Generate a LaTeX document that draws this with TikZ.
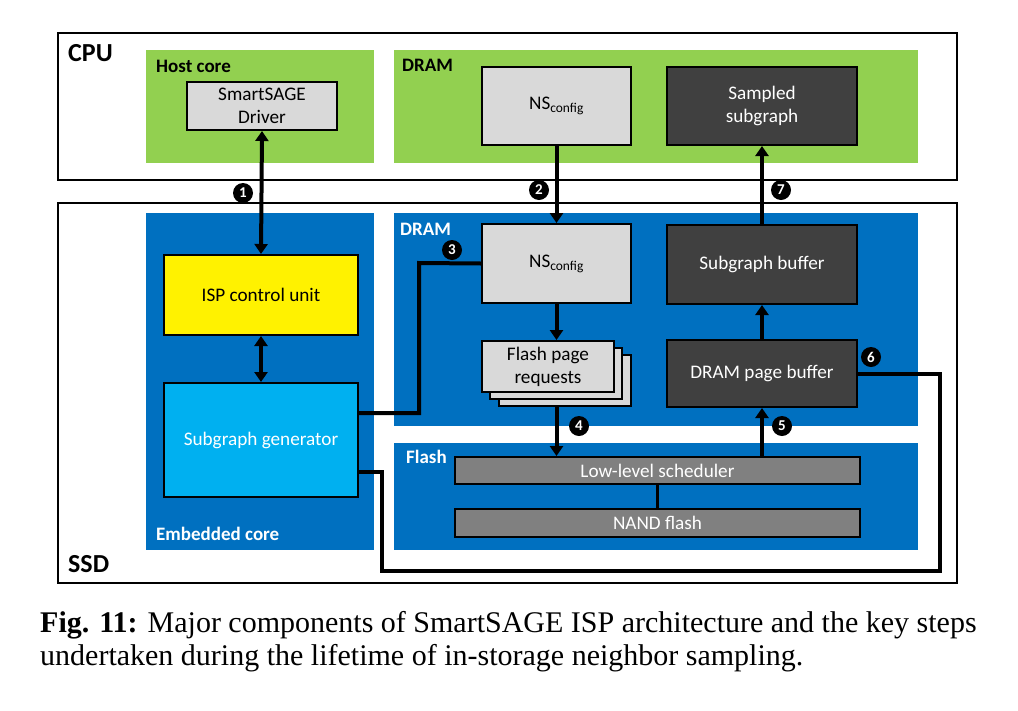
\documentclass[tikz,border=0pt]{standalone}
\usepackage{fontspec}
\setmainfont{Carlito}
\newfontfamily\capfont{Liberation Serif}
\usetikzlibrary{arrows.meta,positioning}
\definecolor{hostgreen}{HTML}{92D050}
\definecolor{ssdblue}{HTML}{0070C0}
\definecolor{genblue}{HTML}{00B0F0}
\definecolor{boxgray}{HTML}{D9D9D9}
\definecolor{darkbox}{HTML}{404040}
\definecolor{flashgray}{HTML}{808080}
\begin{document}
\begin{tikzpicture}[x=1pt,y=-1pt,
  every node/.style={font=\fontsize{19.2}{23}\selectfont},
  blk/.style={draw,line width=2pt,align=center,inner sep=0pt},
  conn/.style={line width=4pt},
  arr/.style={conn,-{Triangle[length=10pt,width=13pt]}},
  biarr/.style={conn,{Triangle[length=10pt,width=13pt]}-{Triangle[length=10pt,width=13pt]}},
  stepnum/.style={circle,fill=black,text=white,inner sep=0pt,minimum size=20pt,font=\fontsize{15}{15}\selectfont\bfseries},
  region/.style={anchor=base west,inner sep=0pt,font=\fontsize{19}{23}\selectfont\bfseries}]
\useasboundingbox (0,0) rectangle (1018,710);

\draw[line width=2pt] (58,33) rectangle (957,180);
\draw[line width=2pt] (58,203) rectangle (957,583);
\node[region,font=\fontsize{26}{30}\selectfont\bfseries] (cpu) at (68,61) {CPU};
\node[region,font=\fontsize{26}{30}\selectfont\bfseries] (ssd) at (68,572) {SSD};

\fill[hostgreen] (146,50) rectangle (374,163);
\fill[hostgreen] (394,50) rectangle (918,163);
\fill[ssdblue] (146,213) rectangle (374,550);
\fill[ssdblue] (394,213) rectangle (918,426);
\fill[ssdblue] (394,443) rectangle (918,550);
\node[region] (host) at (156,72) {Host core};
\node[region] (hdram) at (402,71) {DRAM};
\node[region,text=white] (sdram) at (400,235) {DRAM};
\node[region,text=white] (flash) at (406,463) {Flash};
\node[region,text=white] (emb) at (156,540) {Embedded core};

\node[blk,fill=boxgray,minimum width=150,minimum height=48] (drv) at (262,106) {SmartSAGE\\Driver};
\node[blk,fill=boxgray,minimum width=149,minimum height=78] (nscpu) at (556.5,106) {NS\textsubscript{config}};
\node[blk,fill=darkbox,text=white,minimum width=190,minimum height=78] (sampled) at (762,106) {Sampled\\subgraph};

\node[blk,fill=yellow,minimum width=194,minimum height=80] (isp) at (261,295) {ISP control unit};
\node[blk,fill=genblue,text=white,minimum width=194,minimum height=114] (sgen) at (261,440) {Subgraph generator};

\node[blk,fill=boxgray,minimum width=149,minimum height=79] (nsssd) at (556.5,263.5) {NS\textsubscript{config}};
\node[blk,fill=darkbox,text=white,minimum width=190,minimum height=79] (sbuf) at (762,264.5) {Subgraph buffer};
\node[blk,fill=boxgray,minimum width=132,minimum height=51] (fprb) at (565,380.5) {};
\node[blk,fill=boxgray,minimum width=132,minimum height=51] (fprm) at (556,373.5) {};
\node[blk,fill=boxgray,minimum width=132,minimum height=51] (fpr) at (548,366.5) {Flash page\\requests};
\node[blk,fill=darkbox,text=white,minimum width=190,minimum height=67] (dpb) at (762,373.5) {DRAM page buffer};

\node[blk,fill=flashgray,text=white,minimum width=405,minimum height=27] (sched) at (657.5,470.5) {Low-level scheduler};
\node[blk,fill=flashgray,text=white,minimum width=405,minimum height=28] (nand) at (657.5,523) {NAND flash};
\draw[line width=3pt] (sched) -- (nand);

\coordinate (c3) at (419,263);
\coordinate (c6a) at (940,571);
\coordinate (c6b) at (382,571);

\draw[biarr] (drv.south) -- (isp.north);
\draw[biarr] (isp.south) -- (sgen.north);
\draw[arr] (nscpu.south) -- (nsssd.north);
\draw[conn] ([yshift=-31pt]sgen.north east) -| (c3) -- (nsssd.west);
\draw[arr] (nsssd.south) -- (nsssd.south |- fpr.north);
\draw[arr] (nsssd.south |- fprb.south) -- (nsssd.south |- sched.north);
\draw[arr] (dpb.south |- sched.north) -- (dpb.south);
\draw[arr] (dpb.north) -- (sbuf.south);
\draw[arr] (sbuf.north) -- (sampled.south);
\draw[conn] (dpb.east) -| (c6a) -- (c6b) |- ([yshift=-90pt]sgen.north east);

\node[stepnum] (s1) at (243,193) {1};
\node[stepnum] (s2) at (539,190) {2};
\node[stepnum] (s3) at (452,250) {3};
\node[stepnum] (s4) at (579,426) {4};
\node[stepnum] (s5) at (782,426) {5};
\node[stepnum] (s6) at (871,357) {6};
\node[stepnum] (s7) at (781,190) {7};

\node[anchor=base west,inner sep=0pt,font=\capfont\fontsize{30}{35}\selectfont] (cap1) at (40,632) {\textbf{Fig. 11:} Major components of SmartSAGE ISP architecture and the key steps};
\node[anchor=base west,inner sep=0pt,font=\capfont\fontsize{30}{35}\selectfont] (cap2) at (40,665) {undertaken during the lifetime of in-storage neighbor sampling.};
\end{tikzpicture}
\end{document}
